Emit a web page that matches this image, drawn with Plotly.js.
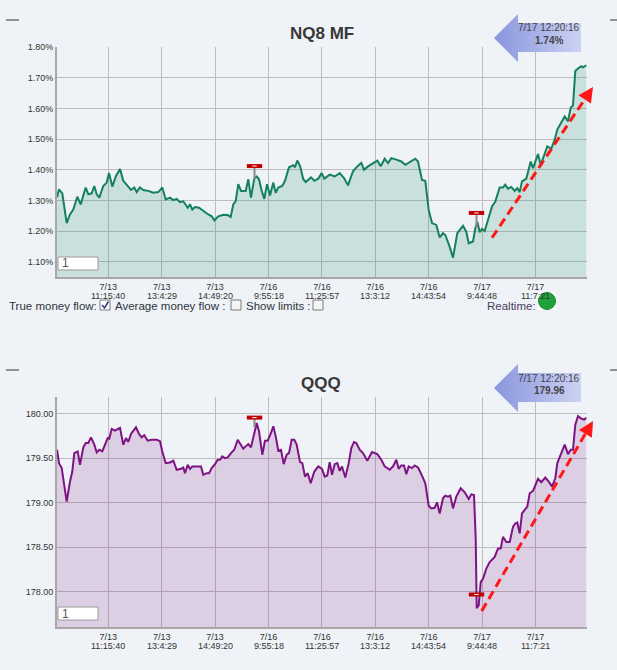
<!DOCTYPE html>
<html><head><meta charset="utf-8">
<script src="https://cdn.plot.ly/plotly-3.0.1.min.js"></script>
<style>html,body{margin:0;padding:0;background:#eff3f7;overflow:hidden}#chart{width:617px;height:670px}</style>
</head><body><div id="chart"></div>
<script>
// ---------- data ----------
const nqTitle = 'NQ8 MF';
const qqqTitle = 'QQQ';
const lastStamp = '7/17 12:20:16';
const nqLast = '1.74%';
const qqqLast = '179.96';

const tickPos = [51.3, 104.7, 158.1, 211.5, 264.9, 318.3, 371.7, 425.1, 478.5];
const tickDates = ['7/13','7/13','7/13','7/16','7/16','7/16','7/16','7/17','7/17'];
const tickTimes = ['11:15:40','13:4:29','14:49:20','9:55:18','11:25:57','13:3:12','14:43:54','9:44:48','11:7:21'];

const nqT = [0,2,5.3,9.7,13,16.3,20.3,23.7,28.7,31.3,34.7,37.3,39.7,42.3,46.3,49.7,52,55.3,59,63,66.3,69.7,74,77.3,79.7,83,86.3,91.3,96.3,101.3,105.3,108.7,113,116.3,119.7,123,126.3,130.7,133,135.3,138,142,146.3,151.3,154.7,157.3,161.3,166.3,170.7,173.7,176.3,178.7,181.3,184,188.7,191.3,194,197.3,199.7,202,204.7,207.3,210,213,216.3,218.7,221.3,225.3,228,232,236.3,238,240.3,243,246.3,248.7,254,257.3,261.3,264.7,267.3,272.7,277.7,282.7,287,291,296,300.3,304.3,307,311,315,320.3,323.7,327.7,331,334.3,339.3,344.3,348.3,354.3,358.3,361,365,368.3,371.7,375,379.3,382.7,386,388.3,392,396,400.3,406,409.3,411.7,416,418.3,420.3,422.7,425,427.7,431,435,438.3,442.7,446,448.3,451,454.3,457.7,460.3,462.7,465,469.3,471.7,473.7,476,477.7,481,483.7,487,490.3,494.3,497.7,500.3,504.3,507.7,511,513.7,516,518.3,521,524.3,526,529.3];
const nqV = [1.31,1.336,1.323,1.226,1.254,1.27,1.312,1.287,1.342,1.32,1.323,1.347,1.32,1.309,1.347,1.358,1.389,1.345,1.38,1.402,1.364,1.349,1.334,1.342,1.327,1.342,1.334,1.331,1.325,1.327,1.342,1.303,1.309,1.301,1.305,1.294,1.297,1.276,1.287,1.27,1.278,1.276,1.265,1.254,1.248,1.235,1.248,1.253,1.252,1.246,1.287,1.298,1.353,1.331,1.331,1.369,1.309,1.371,1.378,1.369,1.331,1.305,1.353,1.316,1.358,1.325,1.342,1.347,1.364,1.408,1.415,1.408,1.43,1.413,1.369,1.36,1.375,1.364,1.371,1.389,1.371,1.384,1.378,1.389,1.373,1.349,1.395,1.411,1.422,1.40,1.411,1.419,1.43,1.411,1.436,1.422,1.438,1.433,1.427,1.416,1.427,1.436,1.427,1.367,1.364,1.269,1.226,1.22,1.179,1.193,1.187,1.155,1.113,1.193,1.217,1.198,1.16,1.166,1.209,1.23,1.196,1.207,1.20,1.236,1.28,1.296,1.342,1.342,1.351,1.338,1.344,1.331,1.34,1.327,1.362,1.371,1.40,1.427,1.405,1.422,1.451,1.416,1.444,1.476,1.469,1.498,1.531,1.553,1.574,1.558,1.602,1.61,1.722,1.73,1.738,1.734,1.741];

const qqqT = [0,2,4.7,9.7,13,15.3,17.3,20.7,23,26.3,28.7,31.3,34,37.3,39.7,42.3,45.3,48,50.7,52.3,54.7,58,63,66.3,69,71.3,74,79,82,84.7,87.3,90.7,94.7,99.7,103,105.3,108.7,113,116.3,119.7,124,126.3,128,130.7,133,135.3,139.7,144,146.3,149.7,152,154.7,158,160.7,163,165.3,168,170.7,174,177.3,180.7,183,186.3,188.7,191.3,194,197.3,199.7,202,205.3,208,210.7,214,216.3,218.7,221.3,224,226.7,229.7,232,234.7,237.3,239.7,243,245.3,248,250.7,253.7,257.3,261.3,265,267.7,270.3,272.7,275,277.7,280.3,282.7,285,288.3,291.7,294.3,297,299.3,302.7,306,310.3,315,320.3,324.3,327.7,332.7,336,339.3,341.7,344.3,347,349.3,351.7,355,357.7,361,364.3,368.3,371.7,374.3,377.7,380,382.7,386,388.3,391,393.3,396,399.3,403.7,407.7,411.7,414.3,417,418.7,419.7,421.7,423.7,426,429.3,432.7,437.7,441,443.7,446,449.3,452.7,456,458.3,460.3,462.7,465,470.3,472.7,476,481,484.3,488.3,491.7,495,498.3,500.3,503.7,507.7,511,513.7,516,518.3,521,524.3,527,529.3];
const qqqV = [179.596,179.445,179.389,179.011,179.238,179.351,179.558,179.577,179.426,179.623,179.672,179.672,179.736,179.653,179.566,179.596,179.577,179.653,179.728,179.721,179.83,179.811,179.842,179.653,179.728,179.683,179.774,179.849,179.774,179.736,179.759,179.698,179.709,179.709,179.691,179.577,179.445,179.453,179.472,179.37,179.381,179.396,179.332,179.426,179.381,179.408,179.408,179.408,179.313,179.332,179.332,179.389,179.434,179.483,179.483,179.521,179.502,179.509,179.558,179.596,179.709,179.672,179.608,179.634,179.66,179.623,179.785,179.898,179.804,179.54,179.698,179.698,179.785,179.86,179.747,179.585,179.596,179.434,179.54,179.558,179.709,179.709,179.653,179.457,179.445,179.294,179.332,179.219,179.351,179.408,179.381,179.294,179.306,179.457,179.313,179.434,179.445,179.358,179.408,179.283,179.445,179.615,179.683,179.672,179.596,179.558,179.472,179.57,179.547,179.483,179.408,179.37,179.408,179.483,179.381,179.419,179.419,179.321,179.408,179.389,179.419,179.396,179.321,179.219,178.966,178.936,178.943,179.004,178.879,179.049,179.079,179.068,179.079,178.936,179.068,179.162,179.117,179.042,179.094,179.087,178.596,177.811,177.842,178.106,178.143,178.257,178.332,178.389,178.483,178.483,178.615,178.558,178.558,178.728,178.766,178.777,178.653,178.879,178.955,179.106,179.132,179.268,179.23,179.283,179.238,179.181,179.275,179.445,179.54,179.653,179.547,179.596,179.596,179.879,179.974,179.947,179.936,179.955];

// high/low flags: time, flag level, stem foot
const nqFlagT = [197.5, 419.5];
const nqFlagV = [1.412, 1.259];
const nqFlagFoot = [1.367, 1.21];
const qqqFlagT = [197.5, 419.5];
const qqqFlagV = [179.958, 177.966];
const qqqFlagFoot = [179.85, 177.966];

// hand-drawn trend arrows
const nqTrendT = [435, 530];
const nqTrendV = [1.178, 1.641];
const qqqTrendT = [424.7, 530];
const qqqTrendV = [177.78, 179.808];

// ---------- layout helpers ----------
const W = 617, H = 670, L = 57, R = 587;
const px = x => (x - L) / (R - L);
const py = y => 1 - y / H;
const FONT = 'Liberation Sans, Arial, sans-serif';
const BG = '#eff3f7';
const GRID = '#bdbdbd';

function stems(t, a, b) {
  const x = [], y = [];
  t.forEach((v, i) => { x.push(v, v, null); y.push(a[i], b[i], null); });
  return {x, y};
}

const nqStem = stems(nqFlagT, nqFlagV, nqFlagFoot);
const qqqStem = stems(qqqFlagT, qqqFlagV, qqqFlagFoot);

// callout arrow outline in page pixels (decoration)
function calloutXY(off) {
  const p = [[494, 38], [518, 14], [518, 23], [581, 23], [581, 52], [518, 52], [518, 62], [494, 38]];
  return {x: p.map(q => q[0]), y: p.map(q => q[1] + off)};
}
const cA = calloutXY(0), cB = calloutXY(350);
const calloutGrad = {type: 'horizontal', colorscale: [[0, '#8a96dd'], [0.45, '#a5afe7'], [1, '#cdd3f3']]};

const traces = [
  {x: nqT, y: nqV, xaxis: 'x', yaxis: 'y', type: 'scatter', mode: 'lines',
   line: {color: '#15805c', width: 2}, fill: 'tozeroy', fillcolor: 'rgba(21,128,92,0.17)', hoverinfo: 'skip'},
  {x: qqqT, y: qqqV, xaxis: 'x2', yaxis: 'y2', type: 'scatter', mode: 'lines',
   line: {color: '#7e1483', width: 2}, fill: 'tozeroy', fillcolor: 'rgba(126,20,131,0.16)', hoverinfo: 'skip'},
  {x: nqStem.x, y: nqStem.y, xaxis: 'x', yaxis: 'y', mode: 'lines', line: {color: '#8a8a8a', width: 2}, hoverinfo: 'skip'},
  {x: qqqStem.x, y: qqqStem.y, xaxis: 'x2', yaxis: 'y2', mode: 'lines', line: {color: '#8a8a8a', width: 2}, hoverinfo: 'skip'},
  {x: nqFlagT, y: nqFlagV, xaxis: 'x', yaxis: 'y', mode: 'markers', cliponaxis: false,
   marker: {symbol: 'line-ew', size: 11, line: {color: '#c00000', width: 4}}, hoverinfo: 'skip'},
  {x: qqqFlagT, y: qqqFlagV, xaxis: 'x2', yaxis: 'y2', mode: 'markers', cliponaxis: false,
   marker: {symbol: 'line-ew', size: 11, line: {color: '#c00000', width: 4}}, hoverinfo: 'skip'},
  {x: nqFlagT, y: nqFlagV, xaxis: 'x', yaxis: 'y', mode: 'markers', cliponaxis: false,
   marker: {symbol: 'line-ew', size: 3, line: {color: '#ffffff', width: 1}}, hoverinfo: 'skip'},
  {x: qqqFlagT, y: qqqFlagV, xaxis: 'x2', yaxis: 'y2', mode: 'markers', cliponaxis: false,
   marker: {symbol: 'line-ew', size: 3, line: {color: '#ffffff', width: 1}}, hoverinfo: 'skip'},
  {x: nqTrendT, y: nqTrendV, xaxis: 'x', yaxis: 'y', mode: 'lines',
   line: {color: '#ff1717', width: 3, dash: '9px,5px'}, hoverinfo: 'skip'},
  {x: qqqTrendT, y: qqqTrendV, xaxis: 'x2', yaxis: 'y2', mode: 'lines',
   line: {color: '#ff1717', width: 3, dash: '9px,5px'}, hoverinfo: 'skip'},
  {x: cA.x, y: cA.y, xaxis: 'x3', yaxis: 'y3', mode: 'none', fill: 'toself',
   fillcolor: '#a7b1e8', fillgradient: calloutGrad, hoverinfo: 'skip'},
  {x: cB.x, y: cB.y, xaxis: 'x3', yaxis: 'y3', mode: 'none', fill: 'toself',
   fillcolor: '#a7b1e8', fillgradient: calloutGrad, hoverinfo: 'skip'}
];

function xAxis(anchor) {
  return {anchor, domain: [0, 1], range: [0, 530], tickmode: 'array', tickvals: tickPos, ticktext: tickDates,
    showgrid: true, gridcolor: GRID, gridwidth: 1, zeroline: false, showline: true, linecolor: '#a8a8a8',
    linewidth: 2, ticks: '', tickfont: {family: FONT, size: 9, color: '#333'}, fixedrange: true};
}
function yAxis(anchor, domain, range, dtick, tick0, suffix) {
  return {anchor, domain, range, dtick, tick0, tickformat: '.2f', ticksuffix: suffix,
    showgrid: true, gridcolor: GRID, gridwidth: 1, zeroline: false, showline: true, linecolor: '#a8a8a8',
    linewidth: 2, ticks: '', tickfont: {family: FONT, size: 9, color: '#333'}, fixedrange: true};
}

function rect(x0, y0, x1, y1, fill, line, lw) {
  return {type: 'rect', xref: 'paper', yref: 'paper', x0: px(x0), x1: px(x1), y0: py(y0), y1: py(y1),
    fillcolor: fill, line: {color: line, width: lw === undefined ? 1 : lw}, layer: 'above'};
}
function hline(x0, x1, y) {
  return {type: 'line', xref: 'paper', yref: 'paper', x0: px(x0), x1: px(x1), y0: py(y), y1: py(y),
    line: {color: '#333', width: 1}, layer: 'above'};
}

const shapes = [
  hline(6, 19, 20), hline(610, 617, 20), hline(6, 19, 370), hline(610, 617, 370),
  rect(58, 257, 98, 270, '#ffffff', '#9a9a9a'),
  rect(58, 607, 98, 620, '#ffffff', '#9a9a9a'),
  rect(100, 300, 110, 310, '#ffffff', '#7a7a7a'),
  rect(231, 300, 241, 310, '#f4f4f4', '#7a7a7a'),
  rect(313, 300, 323, 310, '#f4f4f4', '#7a7a7a'),
  {type: 'path', xref: 'paper', yref: 'paper',
   path: 'M ' + px(102) + ',' + py(305) + ' L ' + px(104.5) + ',' + py(308) + ' L ' + px(108.5) + ',' + py(301.5),
   line: {color: '#2b3f8c', width: 1.6}, layer: 'above'},
  rect(538, 292, 556, 310, '#ffffff', '#ffffff', 0),
  {type: 'circle', xref: 'paper', yref: 'paper', x0: px(538.5), x1: px(555.5), y0: py(292.5), y1: py(309.5),
   fillcolor: '#20a23a', line: {color: '#178a2c', width: 1}, layer: 'above'}
];

function txt(text, x, y, size, color, anchor, bold) {
  return {text: bold ? '<b>' + text + '</b>' : text, xref: 'paper', yref: 'paper', x: px(x), y: py(y),
    xanchor: anchor || 'left', yanchor: 'middle', showarrow: false,
    font: {family: FONT, size, color}};
}

function headAnn(tT, tV, xr, yr, ax, ay, xs, ys) {
  return {xref: xr, yref: yr, x: tT[tT.length - 1], y: tV[tV.length - 1], text: '', showarrow: true,
    ax, ay, arrowhead: 2, arrowsize: 1, arrowwidth: 3, arrowcolor: '#ff1717', standoff: 0,
    xshift: xs, yshift: ys};
}

// second row of the time-axis labels (clock time under each date)
function timeRow(xr, yPix) {
  return tickPos.map((p, i) => ({text: tickTimes[i], xref: xr, yref: 'paper', x: p, y: py(yPix),
    xanchor: 'center', yanchor: 'middle', showarrow: false, font: {family: FONT, size: 9, color: '#333'}}));
}

const annotations = [
  txt(nqTitle, 322, 33, 17, '#383838', 'center', true),
  txt(qqqTitle, 321, 383, 17, '#383838', 'center', true),
  txt(lastStamp, 549, 28, 10, '#444', 'center'),
  txt(nqLast, 549, 40.5, 10, '#444', 'center', true),
  txt(lastStamp, 549, 378, 10, '#444', 'center'),
  txt(qqqLast, 549, 390.5, 10, '#444', 'center', true),
  txt('1', 60, 263.5, 12, '#555'),
  txt('1', 60, 613.5, 12, '#555'),
  txt('True money flow:', 7, 306, 11.5, '#2e3440'),
  txt('Average money flow :', 113, 306, 11.5, '#2e3440'),
  txt('Show limits :', 243.5, 306, 11.5, '#2e3440'),
  txt('Realtime:', 485, 306, 11.5, '#4a3d5e'),
  headAnn(nqTrendT, nqTrendV, 'x', 'y', -8, 12, 6, 9),
  headAnn(qqqTrendT, qqqTrendV, 'x2', 'y2', -7, 12, 6, 10)
].concat(timeRow('x', 295.7), timeRow('x2', 645.7));

const layout = {
  width: W, height: H, margin: {l: L, r: W - R, t: 0, b: 0, pad: 0},
  paper_bgcolor: BG, plot_bgcolor: 'rgba(0,0,0,0)', showlegend: false,
  font: {family: FONT, color: '#333'},
  xaxis: xAxis('y'),
  xaxis2: xAxis('y2'),
  yaxis: yAxis('x', [py(277), py(47)], [1.05, 1.8005], 0.1, 1.0, '%'),
  yaxis2: yAxis('x2', [py(627), py(397)], [177.6, 180.19], 0.5, 178, ''),
  xaxis3: {anchor: 'y3', domain: [0, 1], range: [L, R], visible: false, fixedrange: true},
  yaxis3: {anchor: 'x3', domain: [0, 1], range: [H, 0], visible: false, fixedrange: true},
  shapes, annotations
};

Plotly.newPlot('chart', traces, layout, {displayModeBar: false, staticPlot: true});
</script>
</body></html>
